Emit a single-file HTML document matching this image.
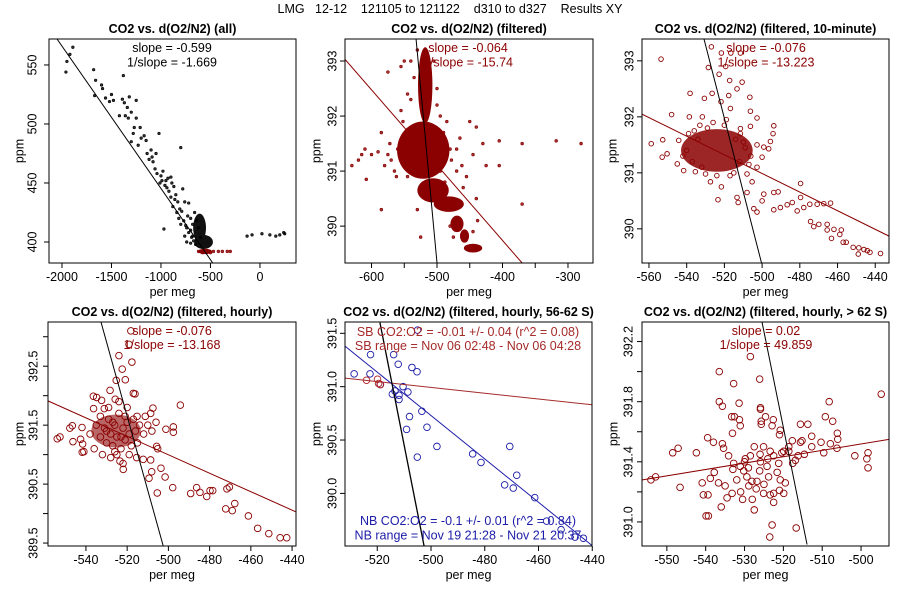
<!DOCTYPE html>
<html><head><meta charset="utf-8"><style>
html,body{margin:0;padding:0;background:#fff}
svg{display:block;font-family:"Liberation Sans",Arial,sans-serif}
</style></head><body>
<svg id="chart" width="900" height="600" viewBox="0 0 900 600">
<text x="450" y="13" text-anchor="middle" font-size="12.5" xml:space="preserve">LMG   12-12    121105 to 121122    d310 to d327    Results XY</text>
</svg>
<script>
// ---------- Panel 1 (all) ----------
const p1Black = [[-1960,544],[-1950,553],[-1920,559],[-1890,565],[-1680,546],[-1660,537],[-1600,533],[-1670,524],[-1590,530],[-1560,522],[-1520,519],[-1500,525],[-1480,520],[-1390,521],[-1370,518],[-1380,541],[-1340,514],[-1320,523],[-1250,520],[-1300,510],[-1360,507],[-1420,507],[-1330,505],[-1250,505],[-1210,497],[-1170,490],[-1270,497],[-1300,485],[-1230,482],[-1150,486],[-1100,478],[-1050,475],[-1020,492],[-1080,468],[-980,460],[-1000,456],[-950,452],[-930,454],[-900,455],[-870,447],[-850,440],[-800,480],[-830,434],[-780,445],[-760,434],[-720,433],[-700,420],[-680,415],[-730,422],[-750,414],[-800,415],[-970,411],[-760,405],[-740,400],[-700,399],[-1280,492],[-1200,488],[-1120,470],[-1060,462],[-1010,450],[-960,448],[-900,438],[-880,430],[-840,425],[-820,420],[-660,425],[-640,418],[-620,412],[-600,404],[-680,405],[-650,398],[-1140,475],[-1090,472],[-1040,458],[-990,452],[-940,446],[-920,443],[-890,450],[-860,436],[-810,428],[-790,426],[-770,418],[-740,412],[-720,408],[-700,410],[-690,404],[-670,401],[-130,405],[-80,406],[20,407],[100,406],[160,405],[200,406],[240,408],[250,407]];
const p1Red = [[-620,392],[-580,391],[-540,392],[-500,391],[-470,392],[-420,392],[-380,392],[-330,392],[-300,392]];
const p1BlobsBlack = [[-610,412,65,12],[-570,400,95,6]];
const p1BlobsRed = [[-555,392,70,2.3]];
const p1FitLine = [[-2050,572],[-475,382]];
// ---------- Panel 2 (filtered) ----------
const p2Pts = [[-630,391.1],[-620,391.2],[-615,391.3],[-610,391.4],[-608,390.85],[-600,391.3],[-590,391.35],[-585,391.7],[-585,390.3],[-575,391.3],[-570,391.2],[-565,391.0],[-560,391.4],[-555,392.1],[-550,393.0],[-540,393.0],[-555,392.9],[-575,392.8],[-540,392.3],[-530,390.3],[-525,389.8],[-450,391.9],[-440,391.8],[-430,391.5],[-405,391.55],[-370,391.5],[-318,391.55],[-280,391.5],[-370,390.4],[-405,391.1],[-425,391.1],[-440,390.5],[-460,390.7],[-470,391.0],[-480,391.4],[-490,391.7],[-500,392.2],[-510,392.6],[-465,391.6],[-445,391.3],[-530,393.2],[-515,393.1],[-505,393.0],[-548,391.6],[-545,390.9],[-495,391.0],[-488,390.8],[-580,391.1],[-572,391.5],[-562,390.9],[-552,391.9],[-545,392.4],[-535,392.7],[-500,392.5],[-495,392.0],[-485,391.9],[-478,391.2],[-470,391.4],[-462,391.1],[-455,390.9],[-480,390.0],[-475,389.8],[-445,389.9],[-438,390.1]];
const p2Blobs = [[-521,391.38,40,0.52],[-518,392.56,11,0.69],[-506,390.65,24,0.22],[-482,390.4,23,0.14],[-469.5,390.04,10,0.15],[-458,389.82,7,0.12],[-445,389.6,14,0.08]];
const p2RedLine = [[-640.5,393.03],[-370,389.33]];
const p2BlackLine = [[-532,393.4],[-500,389.33]];
// ---------- Panel 3 (10-minute) ----------
const p3Pts = [[-553.6,393.03],[-526.9,393.25],[-521.6,393.14],[-516.6,393.14],[-511.5,393.14],[-528.5,392.88],[-522.8,392.76],[-519.3,392.9],[-517.2,392.65],[-510.6,392.62],[-513.3,392.5],[-538.2,392.42],[-526.5,392.42],[-521.8,392.27],[-517.7,392.38],[-506.5,392.35],[-530.6,392.33],[-548,392.04],[-538.6,392.0],[-531.7,392.0],[-516.8,392.15],[-506.2,392.1],[-502.7,391.98],[-493.8,391.84],[-494.2,391.7],[-558.8,391.52],[-552.7,391.59],[-553,391.28],[-550.4,391.34],[-545,391.16],[-541.6,391.04],[-535.4,391.02],[-527.4,390.84],[-521.6,390.75],[-523.4,390.52],[-513.3,390.56],[-512.7,390.47],[-508,390.65],[-504.4,390.36],[-502.7,390.3],[-499.1,390.62],[-500,390.5],[-493.8,390.65],[-491.5,390.66],[-479.6,390.81],[-493.8,390.34],[-490.3,390.38],[-486.7,390.43],[-484,390.47],[-481.4,390.32],[-477.9,390.38],[-474.7,390.44],[-470.8,390.44],[-467.3,390.45],[-463.7,390.46],[-479.6,390.56],[-474.3,390.13],[-472.6,390.04],[-469.9,390.08],[-465.5,390.08],[-465.5,389.98],[-461.9,389.99],[-463.2,389.83],[-458,389.98],[-458.8,389.9],[-457,389.76],[-455.4,389.76],[-451.7,389.67],[-448.7,389.66],[-449,389.55],[-446,389.63],[-444.2,389.61],[-442.8,389.58],[-437.2,389.56],[-502.7,391.5],[-499.1,391.46],[-496.5,391.43],[-495.6,391.56],[-500,391.28],[-502.7,391.1],[-505.3,390.84],[-508,390.98],[-511.5,391.7],[-506.2,391.83],[-511.5,391.79],[-544.2,391.58],[-540,391.4],[-537,391.2],[-534,391.6],[-532,391.1],[-515,391.0],[-512,391.2],[-509,391.45],[-506,391.3],[-536,391.75],[-529,391.8],[-520,391.85],[-514,391.6],[-542,391.3],[-539,391.7],[-533,391.85],[-526,391.9],[-519,391.95],[-510,391.55],[-507,391.15],[-517,390.95],[-530,390.98],[-524,390.95]];
const p3Blobs = [[-524,391.4,19,0.38]];
const p3RedLine = [[-563.8,392.05],[-432.7,389.87]];
const p3BlackLine = [[-530.9,393.4],[-500.3,389.39]];
// ---------- Panel 4 (hourly) ----------
const p4Pts = [[-518.2,393.1],[-519.1,392.87],[-524,392.68],[-517.7,392.57],[-522.4,392.45],[-525.3,392.26],[-520.9,392.27],[-528.3,392.09],[-517,392.04],[-516.2,392.03],[-536.4,391.99],[-534.8,391.97],[-532.4,391.92],[-525.8,391.94],[-494.2,391.84],[-536.3,391.78],[-531.1,391.78],[-507.5,391.79],[-508.6,391.7],[-511.2,391.65],[-515.2,391.65],[-541.9,391.46],[-547.8,391.45],[-546.6,391.49],[-553.9,391.27],[-552.6,391.3],[-546.3,391.22],[-542.6,391.26],[-541.6,391.18],[-541.8,391.04],[-541,391.05],[-501.2,391.43],[-497.6,391.47],[-497.6,391.38],[-505.7,391.14],[-505.2,391.1],[-515.4,390.95],[-512.2,390.92],[-508.6,390.91],[-523.5,390.89],[-521.9,390.75],[-508.1,390.71],[-509.4,390.6],[-503.6,390.77],[-501.6,390.62],[-497.9,390.44],[-505.4,390.35],[-489.2,390.34],[-486.3,390.44],[-484.7,390.36],[-479.8,390.39],[-478.5,390.39],[-481.4,390.29],[-471.6,390.42],[-470.4,390.45],[-472.2,390.08],[-469,390.05],[-467.8,390.17],[-461.2,389.96],[-456.7,389.75],[-451.3,389.66],[-445.8,389.59],[-442.6,389.59],[-535,391.5],[-533,391.3],[-531,391.45],[-530,391.2],[-529,391.6],[-528,391.35],[-527,391.15],[-526,391.5],[-525,391.3],[-524,391.7],[-523,391.1],[-522,391.45],[-521,391.25],[-520,391.55],[-519,391.35],[-518,391.15],[-517,391.6],[-516,391.4],[-515,391.2],[-514,391.5],[-512,391.35],[-510,391.5],[-508,391.4],[-506,391.55],[-532,391.0],[-528,390.95],[-525,391.0],[-536,391.1],[-538,391.35],[-533,391.65],[-529,391.8],[-524,391.9],[-520,391.8],[-526,391.05],[-522,390.85],[-519,391.0],[-530,391.4],[-527,391.55],[-523,391.3],[-521,391.65]];
const p4Blobs = [[-525.4,391.4,12,0.28]];
const p4RedLine = [[-558.3,391.91],[-438.2,390.03]];
const p4BlackLine = [[-532.7,393.25],[-502.5,389.45]];
// ---------- Panel 5 (56-62 S) ----------
const p5Blue = [[-528.6,391.12],[-522.5,391.3],[-522.7,391.12],[-513.9,391.3],[-512.2,391.21],[-507.1,391.18],[-505.2,391.14],[-518.9,391.02],[-514.4,390.93],[-513.4,390.96],[-511.9,390.88],[-510.4,391.0],[-508.6,390.95],[-511.9,390.92],[-503.4,390.77],[-508,390.72],[-509.1,390.6],[-501.5,390.62],[-497.8,390.44],[-505.1,390.34],[-484.5,390.37],[-481.4,390.29],[-470.7,390.44],[-468.1,390.17],[-472.6,390.08],[-469.4,390.05],[-461.4,389.96],[-457,389.74],[-451.6,389.66],[-446.4,389.59],[-443.3,389.58],[-505,391.53]];
const p5Red = [[-524,391.06],[-519.9,391.07],[-519.5,391.03],[-518.8,391.02]];
const p5RedLine = [[-532,391.08],[-440,390.83]];
const p5BlueLine = [[-532,391.38],[-440,389.51]];
const p5BlackLine = [[-519,391.6],[-502.6,389.51]];
// ---------- Panel 6 (> 62 S) ----------
const p6Pts = [[-528.5,392.1],[-536.5,392.0],[-532.8,391.92],[-526.1,391.95],[-536.5,391.8],[-535.7,391.77],[-531.4,391.79],[-525.9,391.76],[-525.9,391.75],[-524.6,391.7],[-525.7,391.67],[-525.7,391.65],[-533.3,391.7],[-532.6,391.7],[-531.3,391.68],[-531.1,391.64],[-533.1,391.59],[-522.6,391.68],[-522.9,391.64],[-521,391.58],[-520.8,391.61],[-508.2,391.8],[-509.2,391.7],[-507.3,391.67],[-515.6,391.65],[-513.7,391.65],[-506.1,391.59],[-506,391.55],[-494.8,391.85],[-512.7,391.57],[-512.7,391.5],[-515.2,391.54],[-515.6,391.53],[-517.7,391.54],[-518.6,391.5],[-510.3,391.53],[-507.9,391.52],[-509.6,391.46],[-506.2,391.49],[-501.6,391.44],[-498.2,391.46],[-498.5,391.42],[-498.2,391.36],[-514.6,391.45],[-516.2,391.44],[-517.6,391.39],[-516.9,391.41],[-539.5,391.56],[-538,391.53],[-535.7,391.52],[-535.4,391.49],[-547.1,391.49],[-548.5,391.46],[-542.4,391.46],[-552.9,391.3],[-554.1,391.28],[-546.6,391.23],[-540.9,391.26],[-540.6,391.18],[-539.4,391.18],[-538.8,391.29],[-537.8,391.33],[-536.7,391.26],[-535,391.24],[-534.5,391.16],[-533.2,391.19],[-536,391.1],[-530.5,391.15],[-528,391.15],[-527.5,391.08],[-539.9,391.04],[-539.3,391.04],[-522.9,390.98],[-523.5,390.9],[-516.7,390.96],[-522.5,391.13],[-525.1,391.19],[-523.4,391.18],[-522.5,391.19],[-519.9,391.19],[-519.5,391.26],[-526.8,391.27],[-528.1,391.27],[-530.2,391.34],[-531.1,391.37],[-529.8,391.42],[-528.5,391.44],[-527.5,391.5],[-525.1,391.5],[-523.4,391.47],[-522.5,391.44],[-521.2,391.39],[-520.4,391.46],[-521.6,391.33],[-524.2,391.37],[-525.9,391.4],[-532.8,391.39],[-534.1,391.44],[-532,391.28],[-529.4,391.3],[-526.1,391.34],[-523.8,391.3],[-528.9,391.24],[-520.8,391.28],[-518.6,391.47],[-519.9,391.47],[-530,391.4],[-527,391.22],[-524,391.42],[-531,391.2],[-533,391.35],[-526,391.45],[-529,391.36],[-521,391.21],[-525,391.25]];
const p6RedLine = [[-556.3,391.28],[-492.6,391.55]];
const p6BlackLine = [[-525.5,392.33],[-513.9,390.85]];
// ---------- Axis ticks ----------
const p1XTicks = [-2000,-1500,-1000,-500,0], p1XLabels = ["-2000","-1500","-1000","-500","0"];
const p1YTicks = [400,450,500,550], p1YLabels = ["400","450","500","550"];
const p2XTicks = [-600,-550,-500,-450,-400,-350,-300], p2XLabels = ["-600","","-500","","-400","","-300"];
const p2YTicks = [390,391,392,393], p2YLabels = ["390","391","392","393"];
const p3XTicks = [-560,-540,-520,-500,-480,-460,-440], p3XLabels = ["-560","-540","-520","-500","-480","-460","-440"];
const p3YTicks = [390,391,392,393], p3YLabels = ["390","391","392","393"];
const p4XTicks = [-540,-520,-500,-480,-460,-440], p4XLabels = ["-540","-520","-500","-480","-460","-440"];
const p4YTicks = [389.5,390,390.5,391,391.5,392,392.5,393], p4YLabels = ["389.5","","390.5","","391.5","","392.5",""];
const p5XTicks = [-520,-500,-480,-460,-440], p5XLabels = ["-520","-500","-480","-460","-440"];
const p5YTicks = [390,390.5,391,391.5], p5YLabels = ["390.0","390.5","391.0","391.5"];
const p6XTicks = [-550,-540,-530,-520,-510,-500], p6XLabels = ["-550","-540","-530","-520","-510","-500"];
const p6YTicks = [391,391.2,391.4,391.6,391.8,392,392.2], p6YLabels = ["391.0","","391.4","","391.8","","392.2"];

const NS = "http://www.w3.org/2000/svg";
const svg = document.getElementById('chart');
const RED = "#8b0000", BLUE = "#1c1ca8";
function mk(tag, attrs, parent){ const e=document.createElementNS(NS,tag); for(const k in attrs) e.setAttribute(k,attrs[k]); (parent||svg).appendChild(e); return e; }

function panel(id, box, xd, yd, title, xt, xl, yt, yl, ylabX, ppmX){
  const g = mk('g',{});
  
  
  const [L,T,R,B] = box;
  const sx = v => L + (v - xd[0])/(xd[1]-xd[0])*(R-L);
  const sy = v => B - (v - yd[0])/(yd[1]-yd[0])*(B-T);
  const cp = mk('clipPath',{id:id+'-clip'},g);
  mk('rect',{x:L,y:T,width:R-L,height:B-T},cp);
  const plot = mk('g',{'clip-path':'url(#'+id+'-clip)'},g);
  
  
  const t = mk('text',{x:(L+R)/2,y:T-6,'text-anchor':'middle','font-size':12.5,'font-weight':'bold'},g);
  t.textContent = title;
  
  
  xt.forEach((v,i)=>{
    const x=sx(v);
    const tk = mk('line',{x1:x,x2:x,y1:B,y2:B+5,stroke:'#000','stroke-width':1},g);
    
    
    if(xl[i]){ const lb=mk('text',{x:x,y:B+18,'text-anchor':'middle','font-size':12.5},g); lb.textContent=xl[i];
      
       }
  });
  yt.forEach((v,i)=>{
    const y=sy(v);
    const tk = mk('line',{x1:L-5,x2:L,y1:y,y2:y,stroke:'#000','stroke-width':1},g);
    
    
    if(yl[i]){ const lb=mk('text',{x:ylabX,y:y,'text-anchor':'middle','font-size':12.5,transform:`rotate(-90 ${ylabX} ${y})`,dy:'0.35em'},g); lb.textContent=yl[i];
      
       }
  });
  const xa = mk('text',{x:(L+R)/2,y:B+33,'text-anchor':'middle','font-size':12.5},g); xa.textContent='per meg';
  
  
  const ya = mk('text',{x:ppmX,y:(T+B)/2,'text-anchor':'middle','font-size':12.5,transform:`rotate(-90 ${ppmX} ${(T+B)/2})`,dy:'0.35em'},g); ya.textContent='ppm';
  
  
  const api = {
    g, plot, sx, sy,
    blobs(arr,color){ arr.forEach(b=>{ const e=mk('ellipse',{cx:sx(b[0]),cy:sy(b[1]),rx:Math.abs(sx(b[0]+b[2])-sx(b[0])),ry:Math.abs(sy(b[1]+b[3])-sy(b[1])),fill:color},plot);
      
       }); },
    pts(arr,color,r,filled,name){ arr.forEach(p=>{ const c=mk('circle',{cx:sx(p[0]),cy:sy(p[1]),r:r,fill:filled?color:'none',stroke:color,'stroke-width':filled?0.6:0.9,'fill-opacity':filled?0.8:0},plot);
      
       }); },
    line(arr,color,name,w){ const l=mk('line',{x1:sx(arr[0][0]),y1:sy(arr[0][1]),x2:sx(arr[1][0]),y2:sy(arr[1][1]),stroke:color,'stroke-width':w||1},plot);
      
       },
    text(lines,color,cx,y0,dy){ lines.forEach((s,i)=>{ const tx=mk('text',{x:cx,y:y0+i*dy,'text-anchor':'middle','font-size':12.5,fill:color},g); tx.textContent=s;
      
       }); },
    frame(){ const f=mk('rect',{x:L,y:T,width:R-L,height:B-T,fill:'none',stroke:'#000','stroke-width':1},g);
      
       }
  };
  return api;
}

// Panel 1
let P = panel('panel-all',[49,39,296,263],[-2131,364],[382.2,572],'CO2 vs. d(O2/N2) (all)',p1XTicks,p1XLabels,p1YTicks,p1YLabels,32,19);
P.blobs(p1BlobsBlack,'#111'); P.pts(p1Black,'#000',1.3,true,'point-all');
P.blobs(p1BlobsRed,RED); P.pts(p1Red,RED,1.4,true,'point-filtered');
P.line(p1FitLine,'#000','fit-line');
P.text(['slope = -0.599','1/slope = -1.669'],'#000',172,52,14.5); P.frame();
// Panel 2
P = panel('panel-filtered',[345,39,593,263],[-640.5,-261.8],[389.33,393.4],'CO2 vs. d(O2/N2) (filtered)',p2XTicks,p2XLabels,p2YTicks,p2YLabels,332,316);
P.blobs(p2Blobs,RED); P.pts(p2Pts,RED,1.4,true,'point-filtered');
P.line(p2RedLine,RED,'fit-line-red'); P.line(p2BlackLine,'#000','fit-line-black');
P.text(['slope = -0.064','1/slope = -15.74'],RED,468,52,14.5); P.frame();
// Panel 3
P = panel('panel-10min',[642,39,889,263],[-563.7,-432.7],[389.39,393.39],'CO2 vs. d(O2/N2) (filtered, 10-minute)',p3XTicks,p3XLabels,p3YTicks,p3YLabels,629,612);
P.blobs(p3Blobs,'rgba(139,0,0,0.85)'); P.pts(p3Pts,RED,2.3,false,'point-10min');
P.line(p3RedLine,RED,'fit-line-red'); P.line(p3BlackLine,'#000','fit-line-black');
P.text(['slope = -0.076','1/slope = -13.223'],RED,766,52,14.5); P.frame();
// Panel 4
P = panel('panel-hourly',[48,322,296,546],[-558.4,-438.1],[389.45,393.25],'CO2 vs. d(O2/N2) (filtered, hourly)',p4XTicks,p4XLabels,p4YTicks,p4YLabels,33,19);
P.blobs(p4Blobs,'rgba(139,0,0,0.6)'); P.pts(p4Pts,RED,3.3,false,'point-hourly');
P.line(p4RedLine,RED,'fit-line-red'); P.line(p4BlackLine,'#000','fit-line-black');
P.text(['slope = -0.076','1/slope = -13.168'],RED,172,335,14); P.frame();
// Panel 5
P = panel('panel-56-62S',[345,322,592,546],[-532,-440.1],[389.507,391.606],'CO2 vs. d(O2/N2) (filtered, hourly, 56-62 S)',p5XTicks,p5XLabels,p5YTicks,p5YLabels,332,316);
P.pts(p5Blue,BLUE,3.3,false,'point-nb'); P.pts(p5Red,'#b22222',3.3,false,'point-sb');
P.line(p5RedLine,'#a52a2a','fit-line-sb'); P.line(p5BlueLine,BLUE,'fit-line-nb'); P.line(p5BlackLine,'#000','fit-line-black',1.3);
P.text(['SB CO2:O2 = -0.01 +/- 0.04 (r^2 = 0.08)','SB range = Nov 06 02:48 - Nov 06 04:28'],'#a52a2a',468,336,14);
P.text(['NB CO2:O2 = -0.1 +/- 0.01 (r^2 = 0.84)','NB range = Nov 19 21:28 - Nov 21 20:37'],BLUE,468,525,14.5); P.frame();
// Panel 6
P = panel('panel-gt62S',[642,322,889,546],[-556.4,-492.8],[390.84,392.33],'CO2 vs. d(O2/N2) (filtered, hourly, > 62 S)',p6XTicks,p6XLabels,p6YTicks,p6YLabels,628,613);
P.pts(p6Pts,RED,3.3,false,'point-hourly');
P.line(p6RedLine,RED,'fit-line-red'); P.line(p6BlackLine,'#000','fit-line-black');
P.text(['slope = 0.02','1/slope = 49.859'],RED,766,335,14); P.frame();
</script>
</body></html>
